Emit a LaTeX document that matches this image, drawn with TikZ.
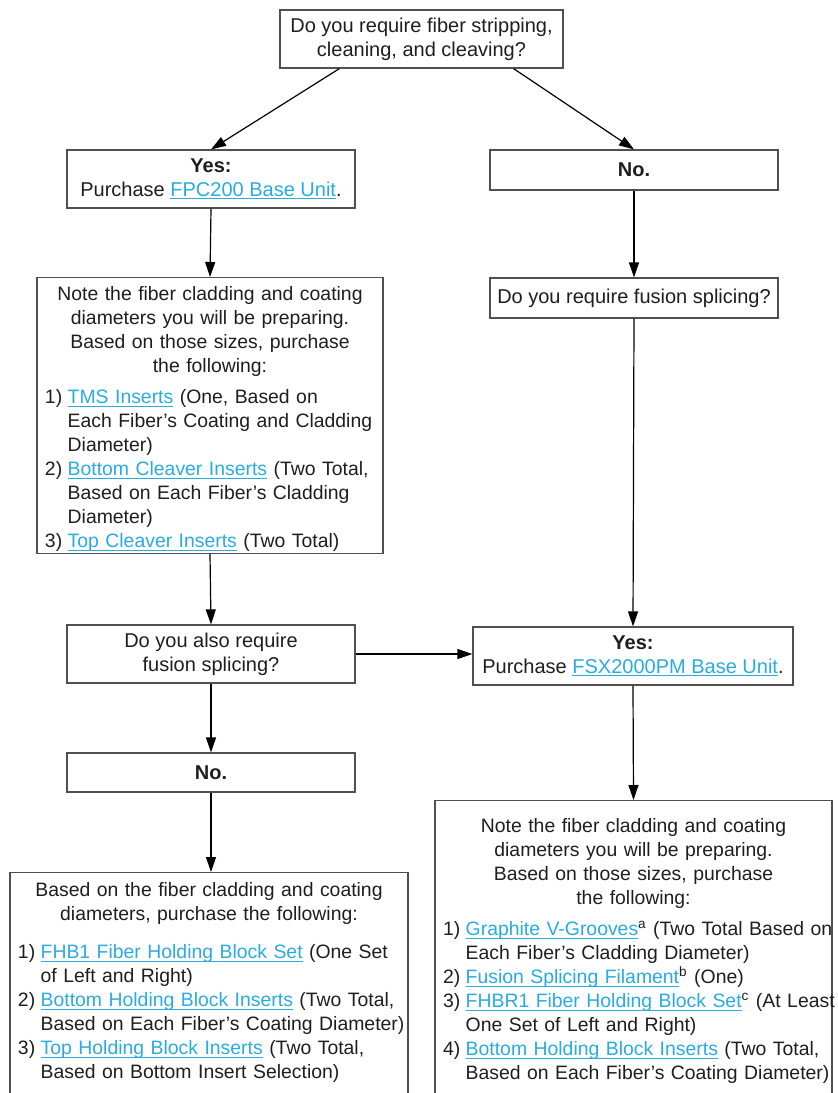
\documentclass[tikz,border=0pt]{standalone}
\usepackage{fontspec}
\setmainfont{Liberation Sans}
\usepackage{xcolor}
\usepackage{tikz}
\usetikzlibrary{arrows.meta}

\definecolor{linkblue}{RGB}{41, 171, 226}
\definecolor{inkgray}{RGB}{30, 30, 30}
\definecolor{edgegray}{RGB}{80, 80, 80}

% underlined product link
\newcommand{\weblink}[1]{%
    \textcolor{linkblue}{\setbox0\hbox{#1}\rlap{\rule[-1.4pt]{\wd0}{0.5pt}}\box0}}
% one centred line and one list line of a text box
\newcommand{\headline}[1]{\makebox[\linewidth][c]{#1}\par}
\newcommand{\listline}[2]{\makebox[\linewidth][l]{\makebox[1.17em][l]{#1}#2}\par}

\tikzset{
    box/.style={draw=edgegray, line width=0.6pt, text=inkgray, align=center,
        inner sep=0pt, font=\fontsize{10}{12}\selectfont},
    listbox/.style={draw=edgegray, line width=0.6pt, text=inkgray, anchor=north,
        inner xsep=4pt, inner ysep=3.6pt, font=\fontsize{9.7}{12}\selectfont},
    flow/.style={-{Triangle[length=7.5pt, width=5pt]}, line width=0.6pt, black}
}

\begin{document}
\begin{tikzpicture}[x=0.5pt, y=-0.5pt]

    \useasboundingbox (0, 0) rectangle (837, 1093);
    \clip (0, 0) rectangle (837, 1093);

    % questions and answers
    \node [box, minimum width=141.5pt, minimum height=29pt] (q1) at (421.5, 39)
        {Do you require fiber stripping,\\ cleaning, and cleaving?};

    \node [box, minimum width=144pt, minimum height=29pt] (yes1) at (211, 179)
        {\textbf{Yes:}\\ Purchase \weblink{FPC200 Base Unit}.};

    \node [box, minimum width=144pt, minimum height=20pt] (no1) at (634, 170)
        {\textbf{No.}};

    \node [box, minimum width=144pt, minimum height=20pt] (q2) at (634, 298)
        {Do you require fusion splicing?};

    \node [box, minimum width=144pt, minimum height=29pt] (q3) at (211, 654)
        {Do you also require\\ fusion splicing?};

    \node [box, minimum width=160pt, minimum height=29pt] (yes2) at (633, 656)
        {\textbf{Yes:}\\ Purchase \weblink{FSX2000PM Base Unit}.};

    \node [box, minimum width=144pt, minimum height=19.5pt] (no2) at (211, 772.5)
        {\textbf{No.}};

    % shopping lists
    \node [listbox, text width=165pt, text height=8pt, text depth=122.8pt] (note1) at (210, 277) {%
        \headline{Note the fiber cladding and coating}
        \headline{diameters you will be preparing.}
        \headline{Based on those sizes, purchase}
        \headline{the following:}
        \vspace{3.5pt}
        \listline{1)}{\weblink{TMS Inserts} (One, Based on}
        \listline{}{Each Fiber’s Coating and Cladding}
        \listline{}{Diameter)}
        \listline{2)}{\weblink{Bottom Cleaver Inserts} (Two Total,}
        \listline{}{Based on Each Fiber’s Cladding}
        \listline{}{Diameter)}
        \listline{3)}{\weblink{Top Cleaver Inserts} (Two Total)}};

    \node [listbox, text width=191pt, text height=8.5pt, text depth=200pt] (note2) at (209, 872) {%
        \headline{Based on the fiber cladding and coating}
        \headline{diameters, purchase the following:}
        \vspace{7pt}
        \listline{1)}{\weblink{FHB1 Fiber Holding Block Set} (One Set}
        \listline{}{of Left and Right)}
        \listline{2)}{\weblink{Bottom Holding Block Inserts} (Two Total,}
        \listline{}{Based on Each Fiber’s Coating Diameter)}
        \listline{3)}{\weblink{Top Holding Block Inserts} (Two Total,}
        \listline{}{Based on Bottom Insert Selection)}};

    \node [listbox, text width=190.5pt, text height=12.5pt, text depth=200pt] (note3) at (633.5, 800) {%
        \headline{Note the fiber cladding and coating}
        \headline{diameters you will be preparing.}
        \headline{Based on those sizes, purchase}
        \headline{the following:}
        \vspace{3.5pt}
        \listline{1)}{\weblink{Graphite V-Grooves}\textsuperscript{a} (Two Total Based on}
        \listline{}{Each Fiber’s Cladding Diameter)}
        \listline{2)}{\weblink{Fusion Splicing Filament}\textsuperscript{b} (One)}
        \listline{3)}{\weblink{FHBR1 Fiber Holding Block Set}\textsuperscript{c} (At Least}
        \listline{}{One Set of Left and Right)}
        \listline{4)}{\weblink{Bottom Holding Block Inserts} (Two Total,}
        \listline{}{Based on Each Fiber’s Coating Diameter)}};

    % arrows
    \draw [flow] ([xshift=30pt]q1.south west) -- (yes1.north);
    \draw [flow] ([xshift=-25pt]q1.south east) -- (no1.north);
    \draw [flow] (yes1.south) -- (note1.north);
    \draw [flow] (no1.south) -- (q2.north);
    \draw [flow] (q2.south) -- (yes2.north);
    \draw [flow] (note1.south) -- (q3.north);
    \draw [flow] (q3.east) -- (q3.east -| yes2.west);
    \draw [flow] (q3.south) -- (no2.north);
    \draw [flow] (no2.south) -- (no2.south |- note2.north);
    \draw [flow] (yes2.south) -- (note3.north);

\end{tikzpicture}
\end{document}
